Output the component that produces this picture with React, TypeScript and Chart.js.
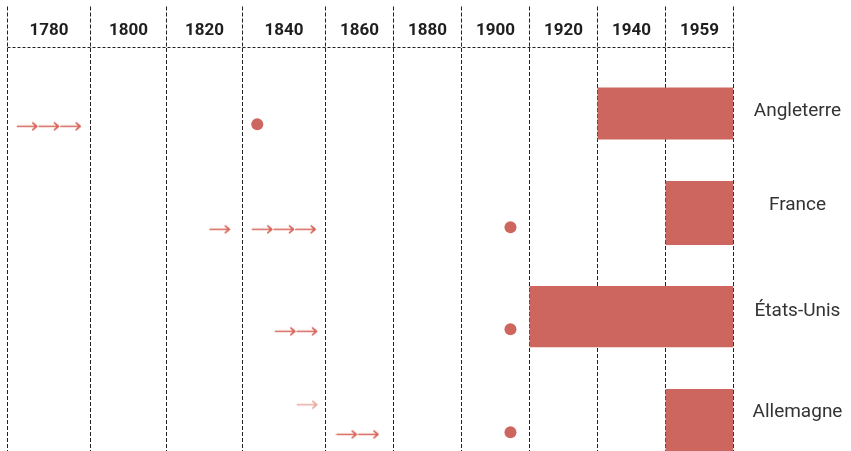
import { useEffect, useRef } from 'react';
import { Chart, LinearScale, registerables } from 'chart.js';

// ---------------- data ----------------
const years = ['1780', '1800', '1820', '1840', '1860', '1880', '1900', '1920', '1940', '1959'];
const countries = ['Angleterre', 'France', 'États-Unis', 'Allemagne'];
// vertical position (row units) of each country label
const countryLabelRow = [0.629, 1.564, 2.61, 3.62];

// red blocks: column span and row band per country
const barStart = [8, 9, 7, 9];
const barEnd = [10, 10, 10, 10];
const barTop = [0.397, 1.323, 2.364, 3.385];
const barBottom = [0.912, 1.958, 2.972, 4.0];

// dots per country (column units, row units)
const dotX = [3.178, 6.72, 6.72, 6.72];
const dotY = [0.761, 1.782, 2.794, 3.815];

// arrow groups (column units, row units, number of arrows)
const arrowX = [0.5, 2.704, 3.5, 3.645, 3.783, 4.47];
const arrowY = [0.781, 1.802, 1.802, 2.813, 3.541, 3.835];
const arrowCount = [3, 1, 3, 2, 1, 2];
const arrowFaint = [false, false, false, false, true, false];

// ---------------- layout / style ----------------
const COLUMN_WIDTHS = [83, 76, 76, 83, 68, 68, 68, 68, 68, 68];
const COL_TOTAL = COLUMN_WIDTHS.reduce((a, b) => a + b, 0);
const COL_EDGES = COLUMN_WIDTHS.reduce((acc: number[], w) => {
  acc.push(acc[acc.length - 1] + w);
  return acc;
}, [0]);
const BAR_COLOR = '#cc665e';
const ARROW_COLOR = '#d8675c';
const ARROW_FAINT = 'rgba(216,103,92,0.55)';
const LINE_COLOR = '#222222';

class ColumnScale extends LinearScale {
  static id = 'columns';
  static defaults = {};
  getPixelForValue(value: any) {
    if (value === null || value === undefined || isNaN(value)) return NaN;
    const n = COLUMN_WIDTHS.length;
    let i = Math.floor(value);
    if (i < 0) i = 0;
    if (i > n - 1) i = n - 1;
    const off = COL_EDGES[i] + (value - i) * COLUMN_WIDTHS[i];
    return (this as any).getPixelForDecimal(off / COL_TOTAL);
  }
  getValueForPixel(pixel: number) {
    const n = COLUMN_WIDTHS.length;
    const off = (this as any).getDecimalForPixel(pixel) * COL_TOTAL;
    let i = 0;
    while (i < n - 1 && off > COL_EDGES[i + 1]) i++;
    return i + (off - COL_EDGES[i]) / COLUMN_WIDTHS[i];
  }
}

Chart.register(...registerables, ColumnScale as any);

function makeArrowImage(count: number, color: string) {
  const period = 21.7;
  const len = 19.3;
  const pad = 1.5;
  const h = 11;
  const w = Math.ceil((count - 1) * period + len + pad * 2);
  const c = document.createElement('canvas');
  c.width = w;
  c.height = h;
  const g = c.getContext('2d')!;
  g.strokeStyle = color;
  g.lineWidth = 1.7;
  g.lineCap = 'round';
  g.lineJoin = 'round';
  const y = 5.5;
  for (let k = 0; k < count; k++) {
    const x0 = pad + k * period;
    const x1 = x0 + len;
    g.beginPath();
    g.moveTo(x0, y);
    g.lineTo(x1, y);
    g.moveTo(x1 - 4, y - 3.4);
    g.lineTo(x1, y);
    g.lineTo(x1 - 4, y + 3.4);
    g.stroke();
  }
  return c;
}

const isEdge = (v: number) => Math.abs(v - Math.round(v)) < 1e-6;

export default function App() {
  const ref = useRef<HTMLCanvasElement>(null);

  useEffect(() => {
    if (!ref.current) return;

    const datasets: any[] = [];
    countries.forEach((name, i) => {
      datasets.push({
        label: name,
        data: [
          { x: barStart[i], y: barTop[i] },
          { x: barEnd[i], y: barTop[i] },
          { x: barEnd[i], y: barBottom[i] },
          { x: barStart[i], y: barBottom[i] },
        ],
        showLine: true,
        fill: 'shape',
        backgroundColor: BAR_COLOR,
        borderColor: 'rgba(0,0,0,0)',
        borderWidth: 0,
        pointRadius: 0,
        tension: 0,
      });
    });

    datasets.push({
      label: 'points',
      data: dotX.map((x, i) => ({ x, y: dotY[i] })),
      showLine: false,
      pointStyle: 'circle',
      pointRadius: 6,
      pointBackgroundColor: BAR_COLOR,
      pointBorderWidth: 0,
      pointBorderColor: 'rgba(0,0,0,0)',
    });

    const arrowImages = arrowCount.map((n, i) => makeArrowImage(n, arrowFaint[i] ? ARROW_FAINT : ARROW_COLOR));
    datasets.push({
      label: 'arrows',
      data: arrowX.map((x, i) => ({ x, y: arrowY[i] })),
      showLine: false,
      pointStyle: arrowImages,
      pointRadius: 5,
      pointBorderWidth: 0,
    });

    const xTicks: number[] = [];
    for (let i = 0; i <= years.length; i++) {
      xTicks.push(i);
      if (i < years.length) xTicks.push(i + 0.5);
    }
    const yTicks = [0, ...countryLabelRow, 4];

    const chart = new Chart(ref.current, {
      type: 'line',
      data: { datasets },
      options: {
        responsive: false,
        maintainAspectRatio: false,
        animation: false,
        events: [],
        layout: { autoPadding: false, padding: { left: 7.5, right: 0, top: 0, bottom: 0 } },
        plugins: { legend: { display: false }, tooltip: { enabled: false } },
        scales: {
          x: {
            type: 'columns' as any,
            position: 'top',
            min: 0,
            max: years.length,
            z: 1,
            afterBuildTicks: (s: any) => {
              s.ticks = xTicks.map((v) => ({ value: v }));
            },
            afterFit: (s: any) => {
              s.height = 47.5;
              s.paddingLeft = 0;
              s.paddingRight = 0;
            },
            grid: {
              display: true,
              drawOnChartArea: true,
              drawTicks: true,
              tickLength: 41,
              color: (c: any) => (c.tick && isEdge(c.tick.value) ? LINE_COLOR : 'rgba(0,0,0,0)'),
              lineWidth: (c: any) => (c.tick && isEdge(c.tick.value) ? 1 : 0),
              tickColor: (c: any) => (c.tick && isEdge(c.tick.value) ? LINE_COLOR : 'rgba(0,0,0,0)'),
              tickWidth: (c: any) => (c.tick && isEdge(c.tick.value) ? 1 : 0),
              tickBorderDash: [4, 2],
            },
            border: { display: false, dash: [4, 2] },
            ticks: {
              autoSkip: false,
              maxRotation: 0,
              minRotation: 0,
              padding: -34,
              color: '#1e1e1e',
              font: { family: 'Roboto', size: 17, weight: 'bold' },
              callback: (v: any) => (isEdge(Number(v)) ? [] : years[Math.floor(Number(v))]),
            },
          } as any,
          y: {
            type: 'linear',
            position: 'right',
            reverse: true,
            min: 0,
            max: 4,
            afterBuildTicks: (s: any) => {
              s.ticks = yTicks.map((v) => ({ value: v }));
            },
            afterFit: (s: any) => {
              s.width = 117.5;
              s.paddingTop = 0;
              s.paddingBottom = 0;
            },
            grid: {
              display: true,
              drawTicks: false,
              color: (c: any) => (c.tick && c.tick.value === 0 ? LINE_COLOR : 'rgba(0,0,0,0)'),
              lineWidth: (c: any) => (c.tick && c.tick.value === 0 ? 1 : 0),
            },
            border: { display: false, dash: [3, 2] },
            ticks: {
              autoSkip: false,
              crossAlign: 'center',
              padding: 19,
              color: '#333333',
              font: { family: 'Roboto', size: 19 },
              callback: (v: any) => {
                const idx = countryLabelRow.indexOf(Number(v));
                return idx >= 0 ? countries[idx] : [];
              },
            },
          } as any,
        },
      },
    });

    return () => chart.destroy();
  }, []);

  return (
    <div style={{ position: 'fixed', left: 0, top: 0, width: 851, height: 451 }}>
      <canvas ref={ref} width={851} height={451} style={{ display: 'block' }} />
    </div>
  );
}
